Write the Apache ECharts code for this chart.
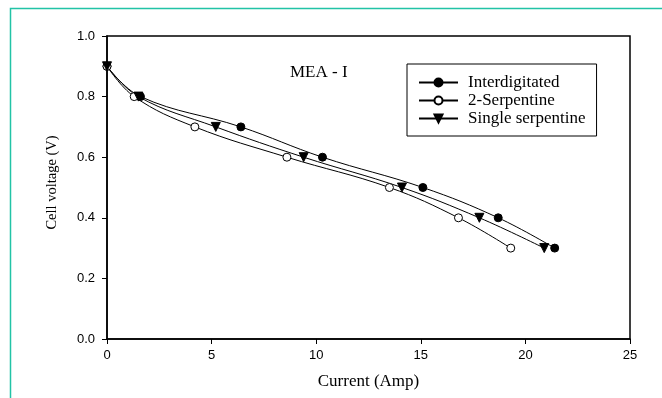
<!DOCTYPE html>
<html>
<head>
<meta charset="utf-8">
<script src="https://cdn.jsdelivr.net/npm/echarts@6/dist/echarts.min.js"></script>
<style>
  html, body { margin: 0; padding: 0; background: #fff; }
  #chart { width: 662px; height: 398px; }
</style>
</head>
<body>
<div id="chart"></div>
<script>
// cell voltage levels shared by every curve
const voltage = [0.9, 0.8, 0.7, 0.6, 0.5, 0.4, 0.3];

// current (Amp) for each flow field
const interdigitated = [0, 1.6, 6.4, 10.3, 15.1, 18.7, 21.4];
const serpentine2 = [0, 1.3, 4.2, 8.6, 13.5, 16.8, 19.3];
const singleSerpentine = [0, 1.5, 5.2, 9.4, 14.1, 17.8, 20.9];

const serif = "'Liberation Serif', 'DejaVu Serif', serif";
const sans = "'Liberation Sans', Arial, sans-serif";

function pairs(xs) {
  return xs.map((x, i) => [x, voltage[i]]);
}

function curve(name, xs, symbol, fill, rotate) {
  return {
    name: name,
    type: "line",
    data: pairs(xs),
    smooth: 0.4,
    symbol: symbol,
    symbolSize: symbol === "triangle" ? 9 : 8,
    symbolRotate: rotate || 0,
    showAllSymbol: true,
    lineStyle: { color: "#000", width: 1 },
    itemStyle: { color: fill, borderColor: "#000", borderWidth: 1 },
    emphasis: { disabled: true },
  };
}

const chart = echarts.init(document.getElementById("chart"));

chart.setOption({
  animation: false,
  backgroundColor: "#fff",
  title: {
    text: "MEA - I",
    left: 290,
    top: 64,
    padding: 0,
    textStyle: { fontFamily: serif, fontSize: 17, fontWeight: "normal", color: "#000" },
  },
  legend: {
    orient: "vertical",
    left: 407,
    top: 64,
    padding: [10, 11, 9, 11],
    itemWidth: 39,
    itemHeight: 10,
    itemGap: 1,
    borderColor: "#000",
    borderWidth: 1,
    textStyle: { fontFamily: serif, fontSize: 17, color: "#000", padding: [0, 0, 0, 5] },
    data: ["Interdigitated", "2-Serpentine", "Single serpentine"],
  },
  grid: {
    left: 107,
    right: 32,
    top: 36,
    bottom: 59,
    show: true,
    borderColor: "#000",
    borderWidth: 1.5,
  },
  xAxis: {
    type: "value",
    min: 0,
    max: 25,
    interval: 5,
    name: "Current (Amp)",
    nameLocation: "middle",
    nameGap: 34,
    nameTextStyle: { fontFamily: serif, fontSize: 17, color: "#000" },
    axisLine: { show: true, onZero: false, lineStyle: { color: "#000", width: 1.5 } },
    axisTick: { show: true, inside: false, length: 5, lineStyle: { color: "#000", width: 1 } },
    axisLabel: { margin: 10, fontFamily: sans, fontSize: 13, color: "#000" },
    splitLine: { show: false },
  },
  yAxis: {
    type: "value",
    min: 0,
    max: 1,
    interval: 0.2,
    name: "Cell voltage (V)",
    nameLocation: "middle",
    nameGap: 47,
    nameTextStyle: { fontFamily: serif, fontSize: 14.5, color: "#000", padding: [0, 0, 0, 10] },
    axisLine: { show: true, onZero: false, lineStyle: { color: "#000", width: 1.5 } },
    axisTick: { show: true, inside: false, length: 5, lineStyle: { color: "#000", width: 1 } },
    axisLabel: {
      margin: 12,
      fontFamily: sans,
      fontSize: 13,
      color: "#000",
      formatter: (v) => v.toFixed(1),
    },
    splitLine: { show: false },
  },
  graphic: [
    {
      type: "rect",
      silent: true,
      shape: { x: 10.5, y: 8.5, width: 700, height: 500 },
      style: { fill: "none", stroke: "#22c3a6", lineWidth: 1.5 },
    },
  ],
  series: [
    curve("Interdigitated", interdigitated, "circle", "#000"),
    curve("2-Serpentine", serpentine2, "circle", "#fff"),
    curve("Single serpentine", singleSerpentine, "triangle", "#000", 180),
  ],
});
</script>
</body>
</html>
